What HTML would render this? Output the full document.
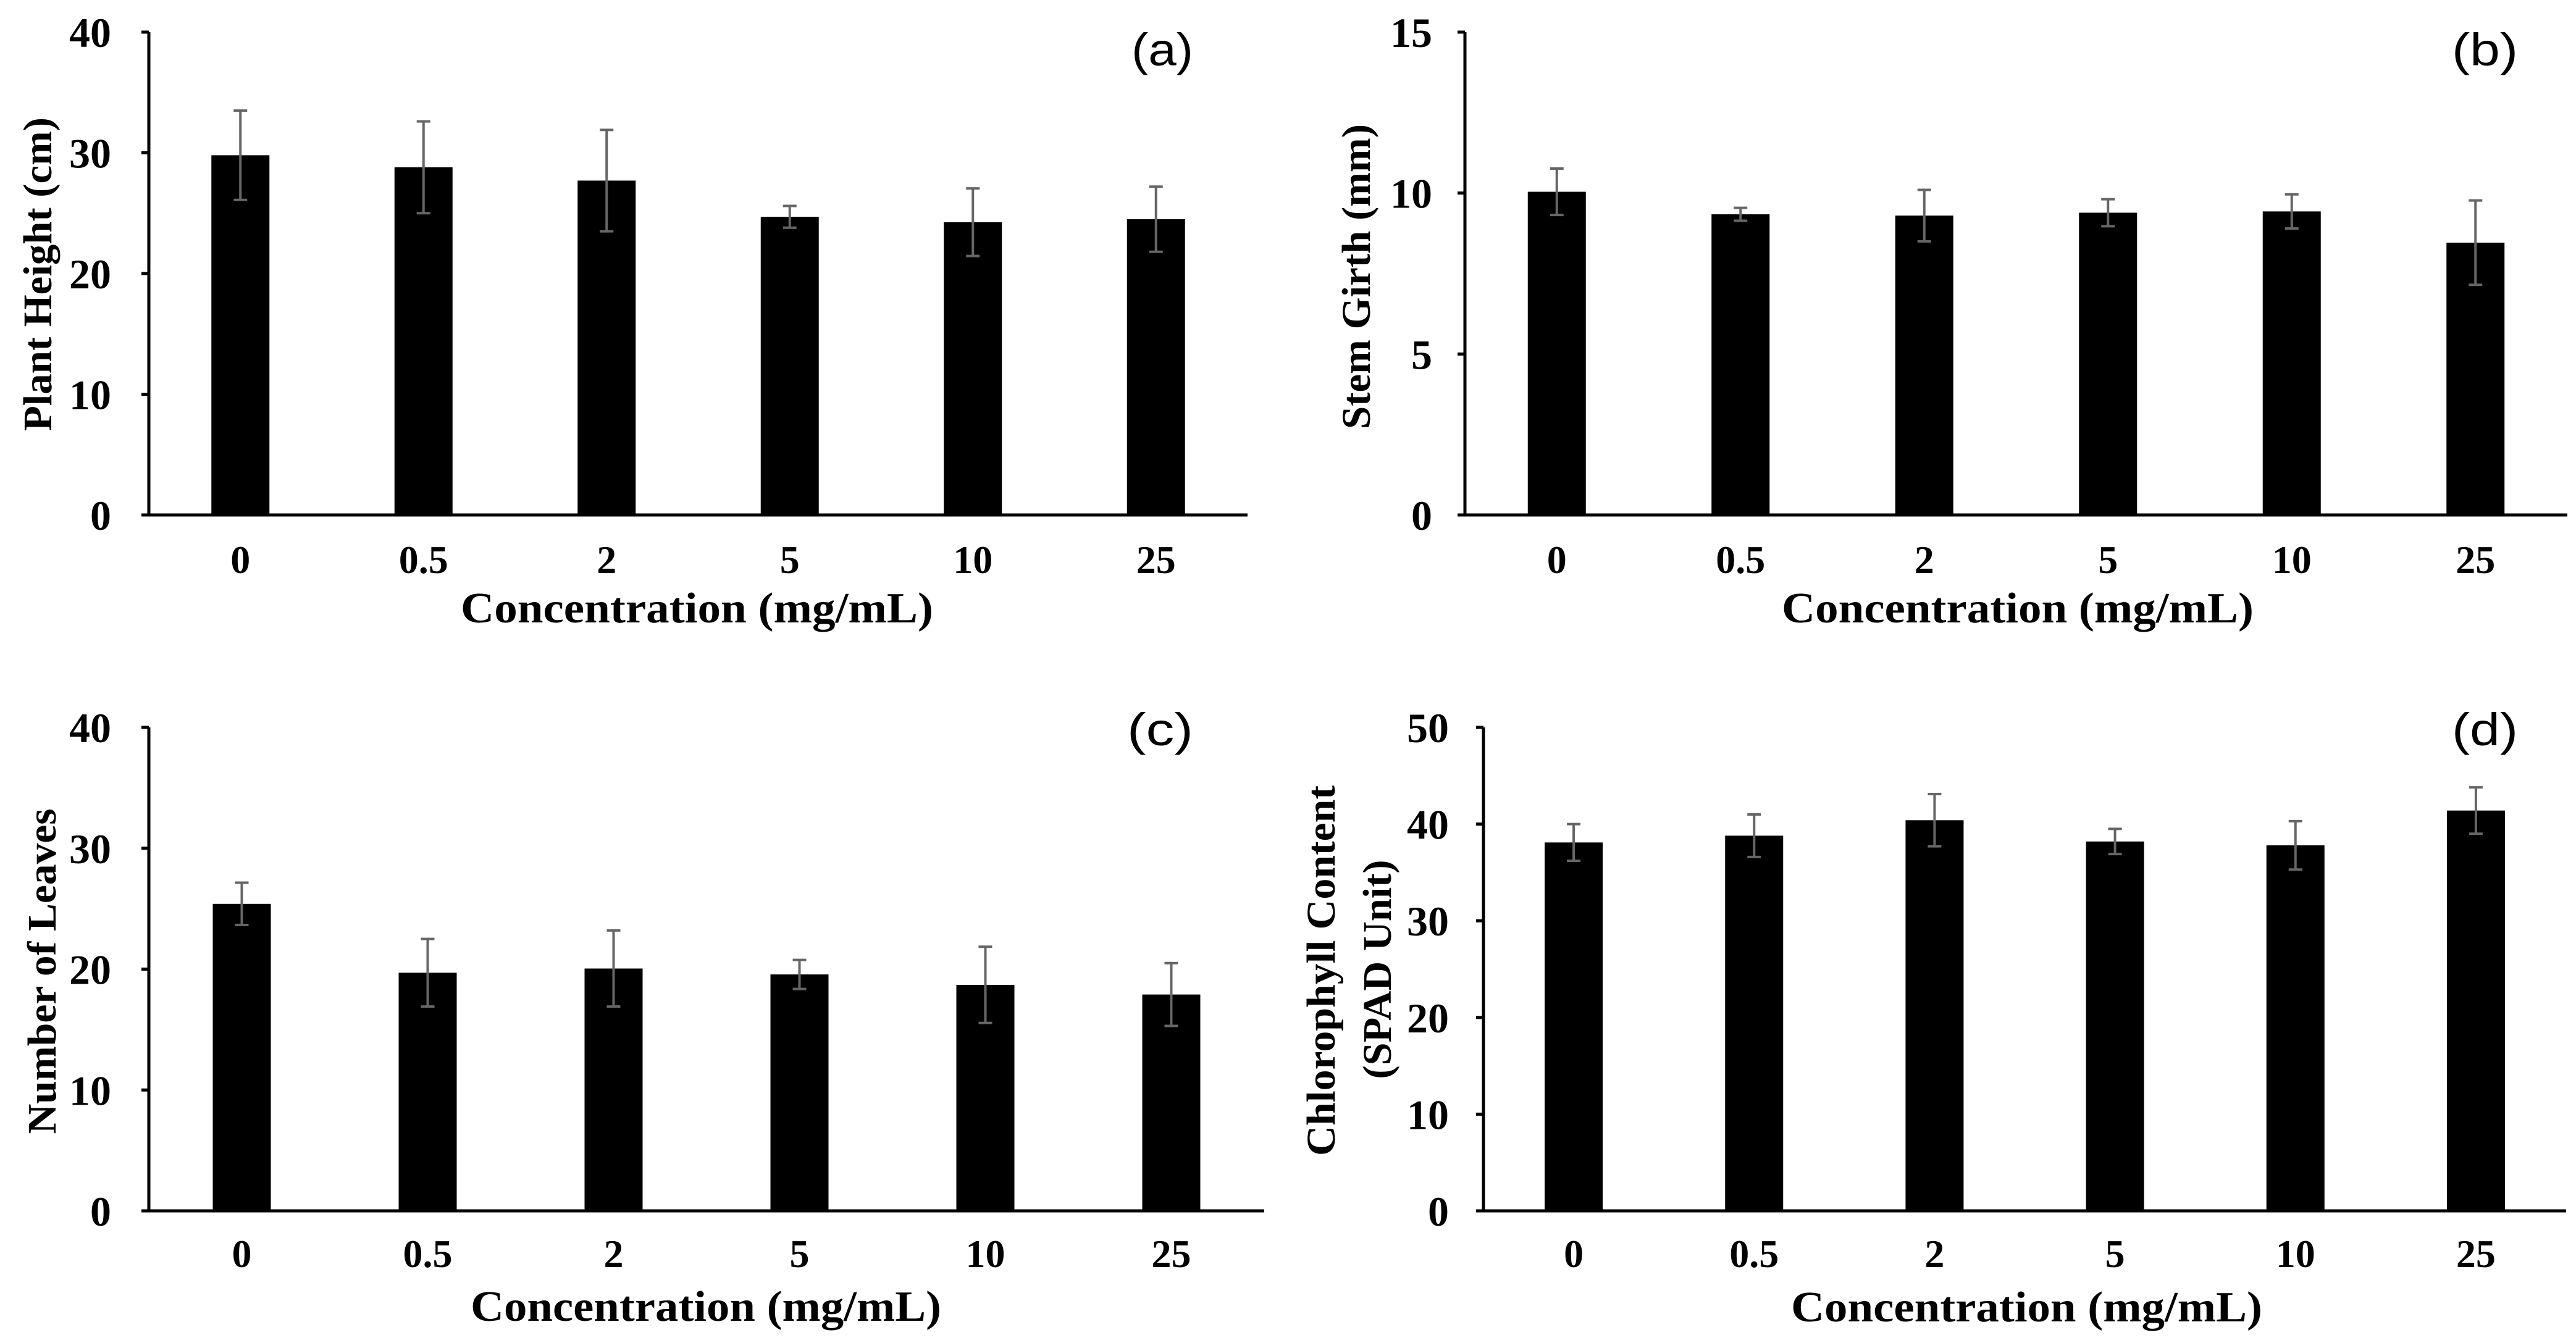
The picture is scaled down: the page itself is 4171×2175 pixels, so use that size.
<!DOCTYPE html>
<html><head><meta charset="utf-8"><style>
html,body{margin:0;padding:0;background:#fff;}
svg{display:block;}
text{font-family:"Liberation Serif",serif;font-weight:bold;fill:#000;}
</style></head><body>
<svg id="fig" width="4171" height="2175" viewBox="0 0 4171 2175" xmlns="http://www.w3.org/2000/svg"></svg>
<script>
const categories = ["0","0.5","2","5","10","25"];
const heightVals = [29.8, 28.8, 27.7, 24.7, 24.25, 24.5];
const heightErr = [3.7, 3.8, 4.2, 0.9, 2.8, 2.7];
const girthVals = [10.04, 9.34, 9.3, 9.39, 9.43, 8.46];
const girthErr = [0.72, 0.2, 0.8, 0.42, 0.53, 1.31];
const leavesVals = [25.4, 19.7, 20.05, 19.56, 18.7, 17.9];
const leavesErr = [1.75, 2.8, 3.15, 1.2, 3.15, 2.6];
const chloroVals = [38.1, 38.8, 40.4, 38.2, 37.8, 41.4];
const chloroErr = [1.9, 2.2, 2.7, 1.3, 2.5, 2.4];
const heightTicks = [0,10,20,30,40];
const girthTicks = [0,5,10,15];
const leavesTicks = [0,10,20,30,40];
const chloroTicks = [0,10,20,30,40,50];

const NS = "http://www.w3.org/2000/svg";
const fig = document.getElementById('fig');
function el(tag, attrs, parent){
  const e = document.createElementNS(NS, tag);
  for (const k in attrs) e.setAttribute(k, attrs[k]);
  (parent||fig).appendChild(e);
  return e;
}

const panels = [
 {id:'a', vals:heightVals, err:heightErr, ticks:heightTicks, x0:241, x1:2020, yTop:52, y0:834,
  tickR:180, xtY:928, title:{x0:746,x1:1511,y:1008}, ylab:[{text:"Plant Height (cm)", x:60, yc:444, len:508}], lab:{x0:1832,x1:1932,y:106}},
 {id:'b', vals:girthVals, err:girthErr, ticks:girthTicks, x0:2372, x1:4157, yTop:52, y0:834,
  tickR:2319, xtY:928, title:{x0:2885,x1:3649,y:1008}, ylab:[{text:"Stem Girth (mm)", x:2195, yc:448, len:494}], lab:{x0:3970,x1:4077,y:106}},
 {id:'c', vals:leavesVals, err:leavesErr, ticks:leavesTicks, x0:241, x1:2047, yTop:1178, y0:1961,
  tickR:180, xtY:2052, title:{x0:762,x1:1524,y:2139}, ylab:[{text:"Number of Leaves", x:67, yc:1573, len:527}], lab:{x0:1825,x1:1932,y:1207}},
 {id:'d', vals:chloroVals, err:chloroErr, ticks:chloroTicks, x0:2402, x1:4155, yTop:1178, y0:1961,
  tickR:2346, xtY:2052, title:{x0:2900,x1:3663,y:2140}, ylab:[{text:"Chlorophyll Content", x:2138, yc:1572, len:600},{text:"(SPAD Unit)", x:2229, yc:1570, len:355}], lab:{x0:3970,x1:4077,y:1207}}
];

panels.forEach(p=>{
  const g = el('g', {});
  
  
  const maxT = p.ticks[p.ticks.length-1];
  const ys = v => p.y0 - (v/maxT)*(p.y0-p.yTop);
  const step = (p.x1-p.x0)/categories.length;
  const xs = i => p.x0 + step*(i+0.5);
  const bw = 94;
  p.vals.forEach((v,i)=>{
    const r = el('rect', {x:xs(i)-bw/2, y:ys(v), width:bw, height:p.y0-ys(v), fill:'#000'}, g);
    
    
    const e = p.err[i];
    const eg = el('g', {stroke:'#666', 'stroke-width':4}, g);
    
    
    el('line', {x1:xs(i), x2:xs(i), y1:ys(v+e), y2:ys(v-e)}, eg);
    el('line', {x1:xs(i)-11, x2:xs(i)+11, y1:ys(v+e), y2:ys(v+e)}, eg);
    el('line', {x1:xs(i)-11, x2:xs(i)+11, y1:ys(v-e), y2:ys(v-e)}, eg);
  });
  const ya = el('line', {x1:p.x0, x2:p.x0, y1:p.yTop, y2:p.y0, stroke:'#000', 'stroke-width':5}, g);
  
  
  const xa = el('line', {x1:p.x0-2, x2:p.x1, y1:p.y0, y2:p.y0, stroke:'#000', 'stroke-width':5}, g);
  
  
  p.ticks.forEach(t=>{
    el('line', {x1:p.x0-12, x2:p.x0, y1:ys(t), y2:ys(t), stroke:'#000', 'stroke-width':5}, g);
    const tl = el('text', {x:p.tickR, y:ys(t)+24, 'text-anchor':'end', 'font-size':68}, g);
    tl.textContent = t;
    
    
  });
  categories.forEach((c,i)=>{
    const tl = el('text', {x:xs(i), y:p.xtY, 'text-anchor':'middle', 'font-size':64}, g);
    tl.textContent = c;
    
    
  });
  const xt = el('text', {x:p.title.x0, y:p.title.y, 'font-size':70, textLength:p.title.x1-p.title.x0, lengthAdjust:'spacingAndGlyphs'}, g);
  xt.textContent = 'Concentration (mg/mL)';
  
  
  p.ylab.forEach(l=>{
    const yt = el('text', {x:0, y:0, 'font-size':66, 'text-anchor':'middle', textLength:l.len, lengthAdjust:'spacingAndGlyphs',
      transform:'translate('+(l.x+23)+','+l.yc+') rotate(-90)'}, g);
    yt.textContent = l.text;
    
    
  });
  const pl = el('text', {x:p.lab.x0, y:p.lab.y, 'font-size':74, style:'font-family:"Liberation Sans",sans-serif;font-weight:normal;', textLength:p.lab.x1-p.lab.x0, lengthAdjust:'spacingAndGlyphs'}, g);
  pl.textContent = '(' + p.id + ')';
  
  
});
</script>
</body></html>
